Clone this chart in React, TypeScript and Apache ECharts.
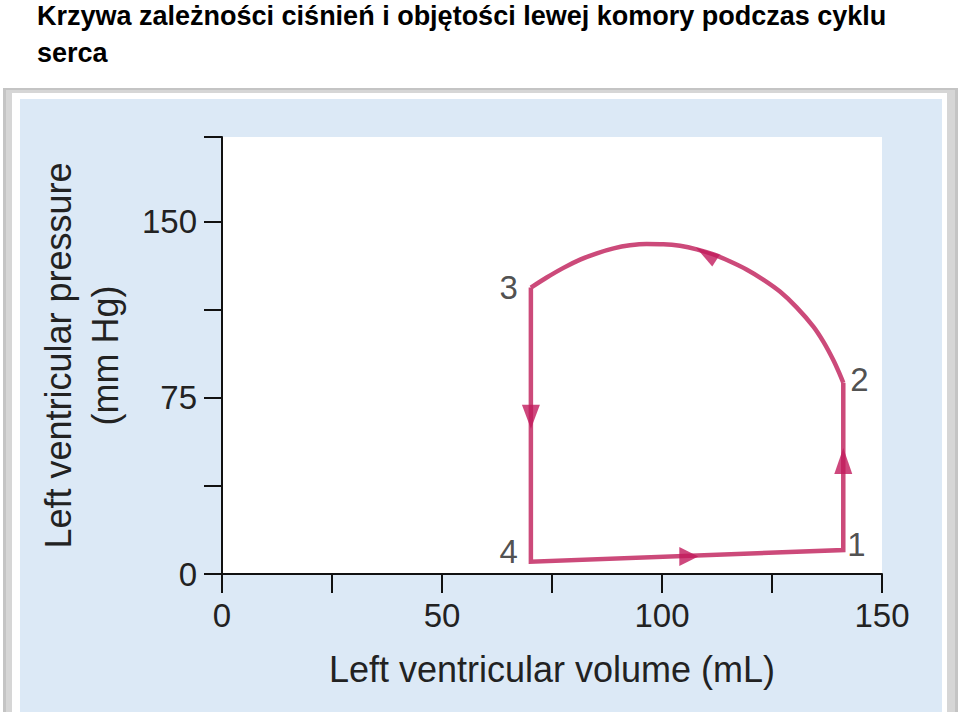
import React, { useEffect, useRef } from 'react';
import * as echarts from 'echarts';

// ---- Data ----
const titleLines = ['Krzywa zależności ciśnień i objętości lewej komory podczas cyklu', 'serca'];
const xAxisName = 'Left ventricular volume (mL)';
const yAxisName = 'Left ventricular pressure\n(mm Hg)';
const xTickLabels = [0, 50, 100, 150];
const yTickLabels = [0, 75, 150];

const pointNames = ['1', '2', '3', '4'];
const pointVolume = [141.2, 141.2, 70.2, 70.2];
const pointPressure = [10.2, 81.4, 121.9, 5.2];

// straight parts of the loop: 3 -> 4 -> 1 -> 2
const edgeVolume = [70.2, 70.2, 141.2, 141.2];
const edgePressure = [121.9, 5.2, 10.2, 81.4];

// ejection curve: 2 -> 3
const ejectionVolume = [141.2, 140.3, 138.9, 136.7, 134.4, 130.6, 126.8, 123.0, 119.3, 115.5, 111.7, 107.9, 104.1, 100.3, 96.5, 92.7, 89.0, 85.2, 81.4, 77.6, 73.8, 70.2];
const ejectionPressure = [81.4, 85.5, 91.2, 98.8, 105.3, 113.5, 120.2, 125.3, 129.5, 133.0, 136.0, 138.2, 139.7, 140.4, 140.5, 139.9, 138.6, 136.5, 133.8, 130.3, 126.2, 121.9];

// direction arrows
const arrowVolume = [70.2, 141.2, 106.1, 110.0];
const arrowPressure = [66.9, 48.1, 7.5, 136.2];
const arrowRotation = [180, 0, -90, 57];

// ---- Styles ----
const LINE = '#cc4a7a';
const ARROW = '#c21a5c';
const TEXT = '#222';
const FONT = '"Liberation Sans", Arial, sans-serif';
const arrowSizes: Record<number, number[]> = { 0: [18, 24], 1: [18, 26], 2: [19, 19], 3: [14, 24] };
const labelLayout: Record<string, any> = {
  '1': { position: 'right', distance: 4, offset: [0, -6] },
  '2': { position: 'right', distance: 7, offset: [0, -3] },
  '3': { position: 'left', distance: 13, offset: [0, 0] },
  '4': { position: 'left', distance: 13, offset: [0, -10] },
};

export default function App() {
  const ref = useRef<HTMLDivElement>(null);
  useEffect(() => {
    if (!ref.current) return;
    const chart = echarts.init(ref.current, null, { renderer: 'svg' });
    const zip = (a: number[], b: number[]) => a.map((v, i) => [v, b[i]]);
    chart.setOption({
      animation: false,
      backgroundColor: '#ffffff',
      graphic: [
        { type: 'rect', z: -10, shape: { x: 3, y: 88, width: 955, height: 640 }, style: { fill: '#c4c4c4' } },
        { type: 'rect', z: -10, shape: { x: 6, y: 90, width: 949, height: 640 }, style: { fill: '#d6d6d6' } },
        { type: 'rect', z: -10, shape: { x: 12, y: 93, width: 935, height: 630 }, style: { fill: '#ffffff' } },
        { type: 'rect', z: -10, shape: { x: 20, y: 99, width: 922, height: 620 }, style: { fill: '#dce9f6' } },
        {
          type: 'text', z: 10, x: 37, y: 15.5,
          style: { text: titleLines[0], font: `bold 27px ${FONT}`, fill: '#000', verticalAlign: 'middle' },
        },
        {
          type: 'text', z: 10, x: 37, y: 52.5,
          style: { text: titleLines[1], font: `bold 27px ${FONT}`, fill: '#000', verticalAlign: 'middle' },
        },
      ],
      grid: {
        left: 222, right: 78, top: 137, bottom: 138,
        show: true, backgroundColor: '#ffffff', borderWidth: 0, z: 0,
      },
      xAxis: {
        type: 'value', min: 0, max: 150, interval: 25,
        name: xAxisName, nameLocation: 'middle', nameGap: 77,
        nameTextStyle: { fontSize: 36, color: TEXT, fontFamily: FONT, lineHeight: 36 },
        axisLine: { show: true, onZero: false, lineStyle: { color: '#111', width: 2 } },
        axisTick: { show: true, length: 19, lineStyle: { color: '#111', width: 2 } },
        axisLabel: {
          fontSize: 33, color: TEXT, fontFamily: FONT, margin: 25,
          formatter: (v: number) => (xTickLabels.includes(v) ? String(v) : ''),
        },
        splitLine: { show: false },
      },
      yAxis: {
        type: 'value', min: 0, max: 186, interval: 37.5,
        name: yAxisName, nameLocation: 'middle', nameGap: 93.5,
        nameTextStyle: { fontSize: 36, color: TEXT, fontFamily: FONT, lineHeight: 47 },
        axisLine: { show: true, onZero: false, lineStyle: { color: '#111', width: 2 } },
        axisTick: { show: true, length: 18, lineStyle: { color: '#111', width: 2 } },
        axisLabel: {
          fontSize: 33, color: TEXT, fontFamily: FONT, margin: 25,
          formatter: (v: number) => (yTickLabels.includes(v) ? String(v) : ''),
        },
        splitLine: { show: false },
      },
      series: [
        {
          type: 'line', name: 'edges', data: zip(edgeVolume, edgePressure),
          showSymbol: false, smooth: false,
          lineStyle: { color: LINE, width: 4.5, join: 'miter' },
          z: 3,
        },
        {
          type: 'line', name: 'ejection', data: zip(ejectionVolume, ejectionPressure),
          showSymbol: false, smooth: 0.3,
          lineStyle: { color: LINE, width: 4.5 },
          z: 3,
        },
        {
          type: 'scatter', name: 'arrows', z: 4,
          data: arrowVolume.map((v, i) => ({
            value: [v, arrowPressure[i]],
            symbolRotate: arrowRotation[i],
            symbolSize: arrowSizes[i],
          })),
          symbol: 'triangle',
          itemStyle: { color: ARROW },
        },
        {
          type: 'scatter', name: 'points', z: 5,
          symbolSize: 0,
          data: pointNames.map((n, i) => ({
            name: n,
            value: [pointVolume[i], pointPressure[i]],
            label: { show: true, formatter: n, ...labelLayout[n] },
          })),
          label: { fontSize: 33, color: TEXT, fontFamily: FONT },
        },
      ],
    });
    return () => chart.dispose();
  }, []);
  return (
    <div
      ref={ref}
      style={{ position: 'absolute', left: 0, top: 0, width: 960, height: 712 }}
    />
  );
}
